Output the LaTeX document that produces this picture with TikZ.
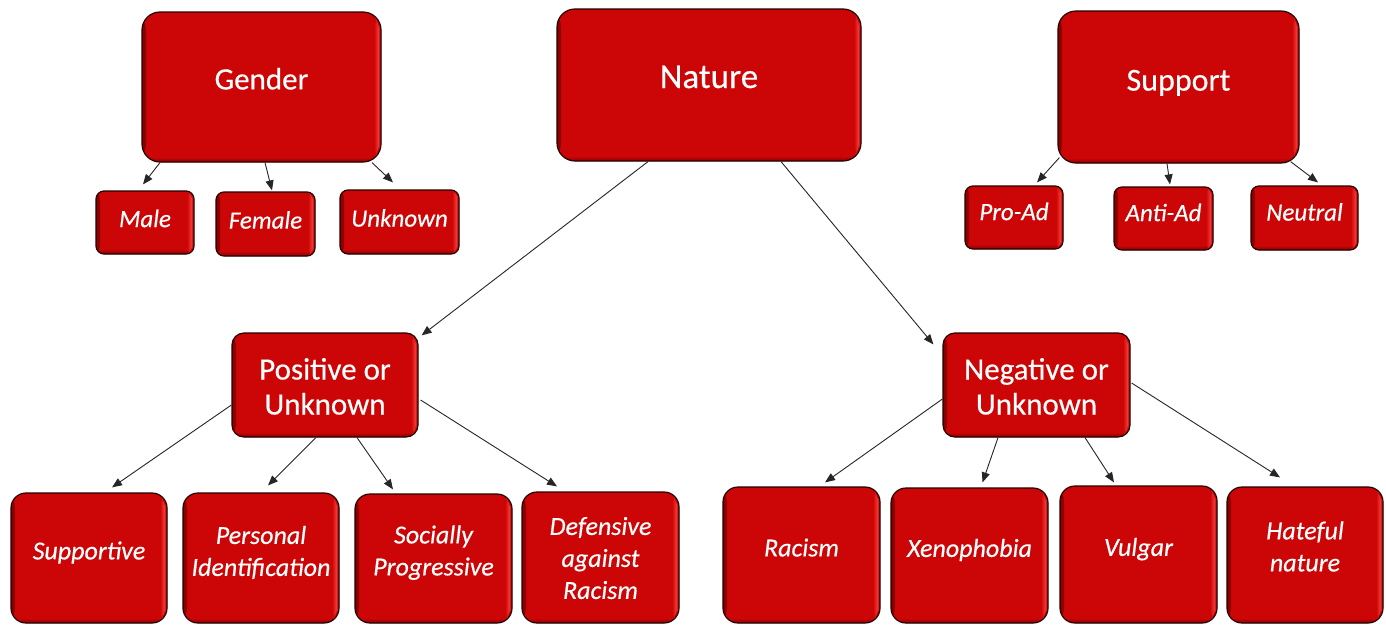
\documentclass[tikz,border=0pt]{standalone}
\usepackage{fontspec}
\setmainfont{Carlito}
\newfontfamily\boxfont{Carlito}[FakeBold=0.35]
\usetikzlibrary{arrows.meta}
\definecolor{boxred}{RGB}{204,6,6}
\definecolor{boxhi}{RGB}{255,62,58}
\definecolor{boxdk}{RGB}{140,0,0}
\definecolor{boxline}{RGB}{35,0,0}
\newcommand\boxtxt[2]{\raisebox{#1}[\height][\depth]{\begin{tabular}{@{}c@{}}#2\end{tabular}}}
\tikzset{
  rbox/.style={draw=boxline, line width=1.2pt, fill=boxred, text=white, inner sep=0pt,
    path picture={
      \shade[left color=boxdk, right color=boxred] (path picture bounding box.north west) rectangle ([xshift=4pt]path picture bounding box.south west);
      \shade[top color=boxred, bottom color=boxdk] ([yshift=5pt]path picture bounding box.south west) rectangle (path picture bounding box.south east);
      \shade[left color=boxred, right color=boxhi] ([xshift=-7pt]path picture bounding box.north east) rectangle ([xshift=-2pt]path picture bounding box.south east);
      \fill[boxhi!55!boxdk] ([xshift=-2pt]path picture bounding box.north east) rectangle (path picture bounding box.south east);
    }},
  bigbox/.style={rbox, rounded corners=18pt, font=\boxfont\fontsize{31}{37}\selectfont},
  midbox/.style={rbox, rounded corners=12pt, font=\boxfont\fontsize{31}{35}\selectfont},
  smallbox/.style={rbox, rounded corners=8pt, font=\boxfont\fontsize{25}{28}\selectfont\itshape},
  leafbox/.style={rbox, rounded corners=15pt, font=\boxfont\fontsize{26}{32}\selectfont\itshape},
  conn/.style={draw=black!85, line width=0.9pt, -{Triangle[length=10pt,width=8pt]}},
}
\begin{document}
\begin{tikzpicture}[x=1pt,y=-1pt]
\clip (0,0) rectangle (1386,624);
\fill[white] (0,0) rectangle (1386,624);

% top row
\node[bigbox, minimum width=239pt, minimum height=150pt] (gender) at (261.5,87) {\boxtxt{5pt}{Gender}};
\node[bigbox, minimum width=304pt, minimum height=152pt, font=\boxfont\fontsize{35}{40}\selectfont] (nature) at (709,85) {\boxtxt{5pt}{Nature}};
\node[bigbox, minimum width=241pt, minimum height=152pt, font=\boxfont\fontsize{32}{38}\selectfont] (support) at (1178.5,87) {\boxtxt{4pt}{Support}};

\node[smallbox, minimum width=98pt, minimum height=63pt] (male) at (145,222.5) {\boxtxt{1pt}{Male}};
\node[smallbox, minimum width=99pt, minimum height=64pt] (female) at (265.5,224) {\boxtxt{1pt}{Female}};
\node[smallbox, minimum width=119pt, minimum height=64pt] (unknown) at (399.5,222) {\boxtxt{1pt}{Unknown}};

\node[smallbox, minimum width=98pt, minimum height=63pt] (proad) at (1014,217.5) {\boxtxt{3pt}{Pro-Ad}};
\node[smallbox, minimum width=99pt, minimum height=63pt] (antiad) at (1163.5,218.5) {\boxtxt{3pt}{Anti-Ad}};
\node[smallbox, minimum width=107pt, minimum height=64pt] (neutral) at (1304.5,218) {\boxtxt{3pt}{Neutral}};

% middle row
\node[midbox, minimum width=186pt, minimum height=104pt] (positive) at (325,385) {\boxtxt{-5pt}{Positive or\\Unknown}};
\node[midbox, minimum width=187pt, minimum height=104pt] (negative) at (1036.5,385) {\boxtxt{-5pt}{Negative or\\Unknown}};

% bottom row
\node[leafbox, minimum width=156pt, minimum height=130pt] (supportive) at (89,558) {\boxtxt{5pt}{Supportive}};
\node[leafbox, minimum width=156pt, minimum height=130pt] (personal) at (261,558) {\boxtxt{4.5pt}{Personal\\Identification}};
\node[leafbox, minimum width=157pt, minimum height=129pt] (socially) at (433.5,558.5) {\boxtxt{5.5pt}{Socially\\Progressive}};
\node[leafbox, minimum width=157pt, minimum height=131pt] (defensive) at (600.5,557.5) {\boxtxt{-3pt}{Defensive\\against\\Racism}};

\node[leafbox, minimum width=157pt, minimum height=136pt] (racism) at (801.5,555) {\boxtxt{5pt}{Racism}};
\node[leafbox, minimum width=157pt, minimum height=135pt] (xeno) at (969.5,555.5) {\boxtxt{5pt}{Xenophobia}};
\node[leafbox, minimum width=157pt, minimum height=137pt] (vulgar) at (1138.5,554.5) {\boxtxt{5pt}{Vulgar}};
\node[leafbox, minimum width=156pt, minimum height=136pt] (hateful) at (1305,555) {\boxtxt{6pt}{Hateful\\nature}};

% connectors
\draw[conn] ([xshift=-101.5pt]gender.south) -- ([shift={(-2pt,6pt)}]male.north);
\draw[conn] ([xshift=3.5pt]gender.south) -- ([shift={(6.5pt,1pt)}]female.north);
\draw[conn] ([xshift=110.5pt]gender.south) -- ([shift={(-6.5pt,7pt)}]unknown.north);

\draw[conn] ([shift={(2pt,6pt)}]support.south west) -- ([shift={(23pt,3pt)}]proad.north);
\draw[conn] ([xshift=-11.5pt]support.south) -- ([shift={(6.5pt,2pt)}]antiad.north);
\draw[conn] ([shift={(-9pt,2pt)}]support.south east) -- ([shift={(13.5pt,3pt)}]neutral.north);

\draw[conn] ([xshift=-61pt]nature.south) -- ([shift={(3pt,-3pt)}]positive.north east);
\draw[conn] ([xshift=72pt]nature.south) -- ([shift={(-9pt,-12pt)}]negative.north west);

\draw[conn] ([yshift=-20pt]positive.west) -- ([shift={(23pt,5pt)}]supportive.north);
\draw[conn] ([xshift=-9pt]positive.south) -- ([shift={(7pt,7pt)}]personal.north);
\draw[conn] ([xshift=32pt]positive.south) -- ([shift={(-40.5pt,4pt)}]socially.north);
\draw[conn] ([shift={(2pt,-15pt)}]positive.east) -- ([shift={(-43.5pt,5pt)}]defensive.north);

\draw[conn] ([yshift=-14pt]negative.west) -- ([shift={(23.5pt,4pt)}]racism.north);
\draw[conn] ([xshift=-38.5pt]negative.south) -- ([shift={(13pt,5pt)}]xeno.north);
\draw[conn] ([xshift=48.5pt]negative.south) -- ([shift={(-24.5pt,3pt)}]vulgar.north);
\draw[conn] ([shift={(1pt,2pt)}]negative.east) -- ([shift={(-25pt,9pt)}]hateful.north);
\end{tikzpicture}
\end{document}
